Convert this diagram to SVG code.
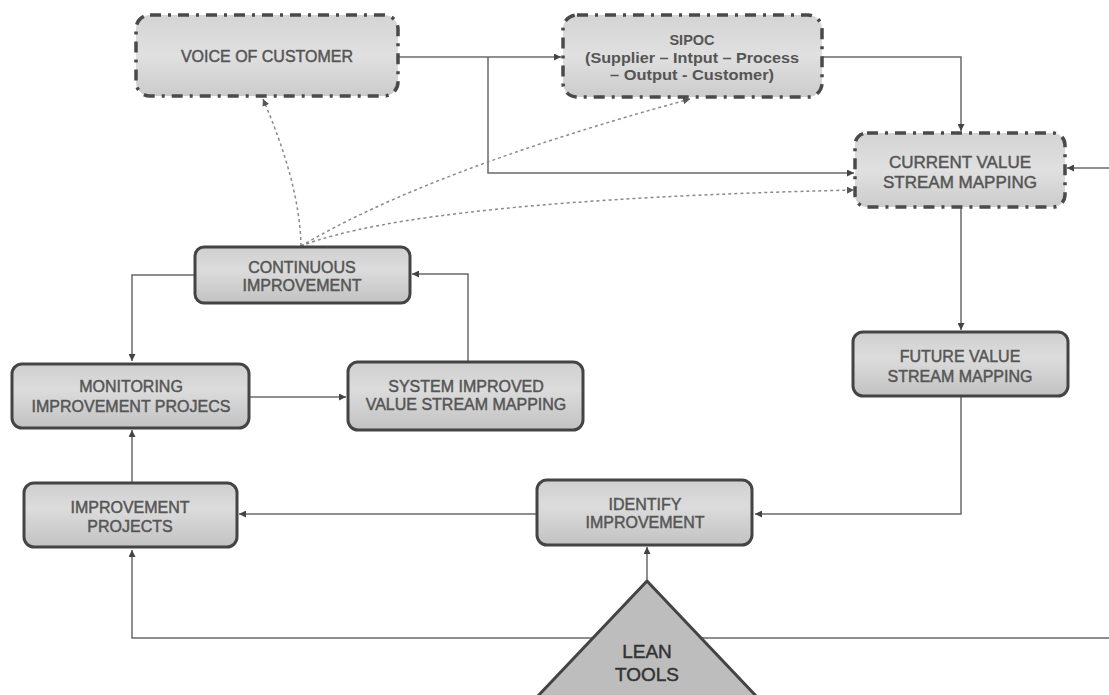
<svg xmlns="http://www.w3.org/2000/svg" width="1109" height="695" viewBox="0 0 1109 695">
<style>
.box{stroke:#444;stroke-width:3;fill:url(#g)}
.dd{stroke:#4a4a4a;stroke-width:3.5;fill:url(#g2);stroke-dasharray:11 7 3 7}
.t{font-family:"Liberation Sans",Arial,sans-serif;font-size:16px;fill:#555;stroke:#555;stroke-width:0.45;text-anchor:middle}
.ln{fill:none;stroke:#6a6a6a;stroke-width:1.5}
.dot{fill:none;stroke:#8a8a8a;stroke-width:1.5;stroke-dasharray:3 3}
</style>
<defs>
<linearGradient id="g" x1="0" y1="0" x2="0" y2="1"><stop offset="0" stop-color="#cfcfcf"/><stop offset="0.4" stop-color="#dcdcdc"/><stop offset="1" stop-color="#c2c2c2"/></linearGradient>
<linearGradient id="g2" x1="0" y1="0" x2="0" y2="1"><stop offset="0" stop-color="#d4d4d4"/><stop offset="0.5" stop-color="#e0e0e0"/><stop offset="1" stop-color="#cccccc"/></linearGradient>
<marker id="a" viewBox="0 0 10 10" refX="10" refY="5" markerWidth="7" markerHeight="7" orient="auto" markerUnits="userSpaceOnUse"><path d="M0,0 L10,5 L0,10 z" fill="#444"/></marker>
<marker id="ad" viewBox="0 0 10 10" refX="10" refY="5" markerWidth="7" markerHeight="7" orient="auto" markerUnits="userSpaceOnUse"><path d="M0,0 L10,5 L0,10 z" fill="#555"/></marker>
</defs>
<rect width="1109" height="695" fill="#ffffff"/>
<g id="connectors">
<path class="ln" d="M398,57 H561" marker-end="url(#a)"/>
<path class="ln" d="M488,57 V173 H854" marker-end="url(#a)"/>
<path class="ln" d="M822,57 H961 V131" marker-end="url(#a)"/>
<path class="ln" d="M1109,168 H1067" marker-end="url(#a)"/>
<path class="ln" d="M961,207 V330" marker-end="url(#a)"/>
<path class="ln" d="M961,397 V514 H755" marker-end="url(#a)"/>
<path class="ln" d="M537,514 H239" marker-end="url(#a)"/>
<path class="ln" d="M132,483 V430" marker-end="url(#a)"/>
<path class="ln" d="M195,275 H132 V361" marker-end="url(#a)"/>
<path class="ln" d="M249,397 H346" marker-end="url(#a)"/>
<path class="ln" d="M468,362 V274 H412" marker-end="url(#a)"/>
<path class="ln" d="M1109,638 H132 V550" marker-end="url(#a)"/>
<path class="ln" d="M647,580 V547" marker-end="url(#a)"/>
<path class="dot" d="M301,246 C300,200 285,150 263,99" marker-end="url(#ad)"/>
<path class="dot" d="M301,246 Q430,170 690,99" marker-end="url(#ad)"/>
<path class="dot" d="M301,246 Q420,200 854,190" marker-end="url(#ad)"/>
</g>
<g id="voc"><rect class="dd" x="136" y="15" width="262" height="81" rx="14"/><text class="t" x="267" y="62">VOICE OF CUSTOMER</text></g>
<g id="sipoc"><rect class="dd" x="563" y="15" width="259" height="82" rx="14"/>
<text class="t" x="692" y="45" style="font-weight:bold;font-size:14.5px;stroke-width:0">SIPOC</text>
<text class="t" x="692" y="63" style="font-weight:bold;font-size:14.5px;stroke-width:0" textLength="214" lengthAdjust="spacingAndGlyphs">(Supplier – Intput – Process</text>
<text class="t" x="692" y="80" style="font-weight:bold;font-size:14.5px;stroke-width:0" textLength="164" lengthAdjust="spacingAndGlyphs">– Output - Customer)</text></g>
<g id="current"><rect class="dd" x="855" y="133" width="210" height="74" rx="12"/>
<text class="t" x="960" y="168" style="font-size:17px">CURRENT VALUE</text><text class="t" x="960" y="188" style="font-size:17px">STREAM MAPPING</text></g>
<g id="continuous"><rect class="box" x="195" y="247" width="215" height="56" rx="9"/>
<text class="t" x="302" y="273">CONTINUOUS</text><text class="t" x="302" y="291">IMPROVEMENT</text></g>
<g id="monitoring"><rect class="box" x="12" y="364" width="237" height="64" rx="10"/>
<text class="t" x="131" y="392">MONITORING</text><text class="t" x="131" y="412">IMPROVEMENT PROJECS</text></g>
<g id="system"><rect class="box" x="348" y="362" width="235" height="68" rx="10"/>
<text class="t" x="466" y="392">SYSTEM IMPROVED</text><text class="t" x="466" y="410">VALUE STREAM MAPPING</text></g>
<g id="future"><rect class="box" x="853" y="332" width="215" height="64" rx="10"/>
<text class="t" x="960" y="362">FUTURE VALUE</text><text class="t" x="960" y="382">STREAM MAPPING</text></g>
<g id="improvement-projects"><rect class="box" x="24" y="483" width="213" height="64" rx="10"/>
<text class="t" x="130" y="513">IMPROVEMENT</text><text class="t" x="130" y="532">PROJECTS</text></g>
<g id="identify"><rect class="box" x="537" y="480" width="215" height="65" rx="10"/>
<text class="t" x="645" y="510">IDENTIFY</text><text class="t" x="645" y="528">IMPROVEMENT</text></g>
<g id="lean"><path d="M647,581 L757,697 L537,697 Z" fill="#bdbdbd" stroke="#444" stroke-width="3" stroke-linejoin="round"/>
<text class="t" x="647" y="658" style="font-size:19px;fill:#333;stroke:#333">LEAN</text><text class="t" x="647" y="681" style="font-size:19px;fill:#333;stroke:#333">TOOLS</text></g>
</svg>
